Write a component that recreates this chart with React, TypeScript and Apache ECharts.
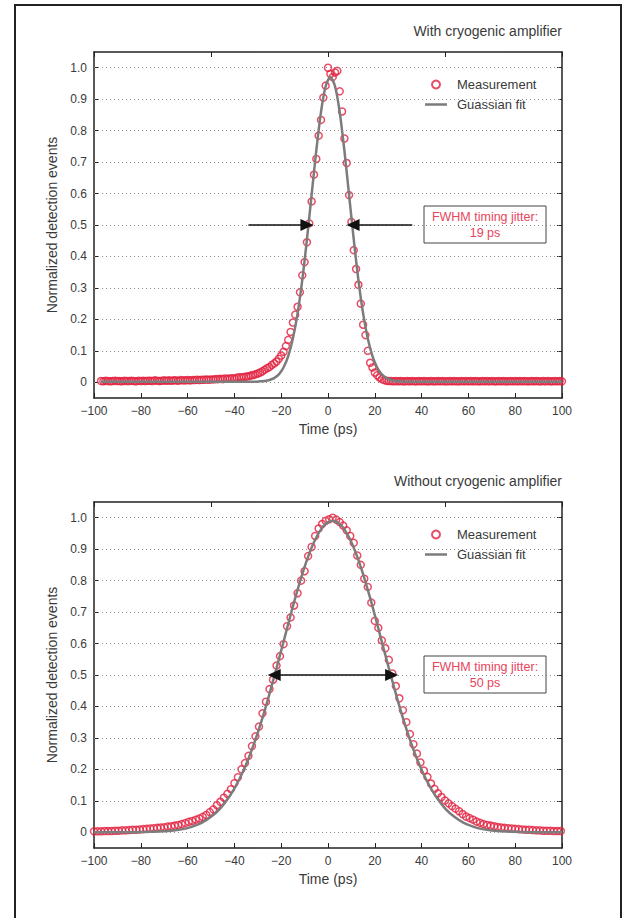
import React, { useEffect, useRef } from 'react';
import * as echarts from 'echarts';

// ---------- Data ----------
const yTickValues = [0, 0.1, 0.2, 0.3, 0.4, 0.5, 0.6, 0.7, 0.8, 0.9, 1.0];

// Top panel: with cryogenic amplifier
const topMeasT = [
  -97, -96, -95, -94, -93, -92, -91, -90, -89, -88, -87, -86, -85, -84, -83, -82, -81, -80, -79, -78,
  -77, -76, -75, -74, -73, -72, -71, -70, -69, -68, -67, -66, -65, -64, -63, -62, -61, -60, -59, -58,
  -57, -56, -55, -54, -53, -52, -51, -50, -49, -48, -47, -46, -45, -44, -43, -42, -41, -40, -39, -38,
  -37, -36, -35, -34, -33, -32, -31, -30, -29, -28, -27, -26, -25, -24, -23, -22, -21, -20, -19, -18,
  -17, -16, -15, -14, -13, -12, -11, -10, -9, -8, -7, -6, -5, -4, -3, -2, -1, 0, 1, 2,
  3, 4, 5, 6, 7, 8, 9, 10, 11, 12, 13, 14, 15, 16, 17, 18, 19, 20, 21, 22,
  23, 24, 25, 26, 27, 28, 29, 30, 31, 32, 33, 34, 35, 36, 37, 38, 39, 40, 41, 42,
  43, 44, 45, 46, 47, 48, 49, 50, 51, 52, 53, 54, 55, 56, 57, 58, 59, 60, 61, 62,
  63, 64, 65, 66, 67, 68, 69, 70, 71, 72, 73, 74, 75, 76, 77, 78, 79, 80, 81, 82,
  83, 84, 85, 86, 87, 88, 89, 90, 91, 92, 93, 94, 95, 96, 97, 98, 99, 100,
];
const topMeasV = [
  0.004, 0.003, 0.005, 0.004, 0.003, 0.004, 0.005, 0.004, 0.004, 0.003, 0.005, 0.004, 0.004, 0.005, 0.004, 0.003, 0.005, 0.004, 0.005, 0.004,
  0.005, 0.005, 0.004, 0.006, 0.005, 0.004, 0.005, 0.006, 0.005, 0.006, 0.005, 0.006, 0.006, 0.005, 0.007, 0.006, 0.006, 0.007, 0.006, 0.007,
  0.007, 0.008, 0.007, 0.008, 0.008, 0.009, 0.008, 0.009, 0.009, 0.010, 0.010, 0.011, 0.010, 0.012, 0.011, 0.012, 0.013, 0.012, 0.014, 0.016,
  0.016, 0.017, 0.018, 0.019, 0.021, 0.023, 0.025, 0.028, 0.031, 0.035, 0.040, 0.045, 0.048, 0.055, 0.060, 0.066, 0.075, 0.085, 0.097, 0.115,
  0.135, 0.160, 0.190, 0.215, 0.240, 0.286, 0.340, 0.382, 0.445, 0.505, 0.575, 0.660, 0.710, 0.784, 0.834, 0.905, 0.943, 1.000, 0.980, 0.970,
  0.985, 0.990, 0.925, 0.861, 0.775, 0.697, 0.595, 0.510, 0.420, 0.360, 0.310, 0.250, 0.183, 0.150, 0.100, 0.062, 0.047, 0.031, 0.022, 0.015,
  0.010, 0.007, 0.005, 0.004, 0.004, 0.003, 0.004, 0.003, 0.004, 0.003, 0.003, 0.004, 0.003, 0.004, 0.003, 0.003, 0.004, 0.003, 0.004, 0.003,
  0.003, 0.004, 0.003, 0.003, 0.004, 0.003, 0.004, 0.003, 0.003, 0.004, 0.003, 0.004, 0.003, 0.003, 0.004, 0.003, 0.004, 0.003, 0.004, 0.003,
  0.004, 0.003, 0.003, 0.004, 0.003, 0.004, 0.003, 0.004, 0.003, 0.003, 0.004, 0.003, 0.004, 0.003, 0.003, 0.004, 0.003, 0.004, 0.003, 0.004,
  0.003, 0.004, 0.003, 0.003, 0.004, 0.003, 0.004, 0.003, 0.003, 0.004, 0.003, 0.004, 0.003, 0.003, 0.004, 0.003, 0.004, 0.003,
];
const topFitT = [
  -97, -60, -40, -33, -31, -29, -27, -25, -23, -21, -19, -17, -15, -13, -11, -9, -7, -5, -3, -1,
  1, 3, 5, 7, 9, 11, 13, 15, 17, 19, 21, 23, 25, 27, 29, 31, 33, 40, 60, 100,
];
const topFitV = [
  0.002, 0.002, 0.002, 0.002, 0.002, 0.003, 0.004, 0.007, 0.013, 0.025, 0.047, 0.083, 0.139, 0.219, 0.325, 0.454, 0.596, 0.737, 0.859, 0.941,
  0.970, 0.941, 0.859, 0.737, 0.596, 0.454, 0.325, 0.219, 0.139, 0.083, 0.047, 0.025, 0.013, 0.007, 0.004, 0.003, 0.002, 0.002, 0.002, 0.002,
];
const topArrows = [
  [-34, -9],
  [36, 10.7],
];
const topJitter = '19 ps';

// Bottom panel: without cryogenic amplifier
const botMeasT = [
  -100, -98.5, -97, -95.5, -94, -92.5, -91, -89.5, -88, -86.5,
  -85, -83.5, -82, -80.5, -79, -77.5, -76, -74.5, -73, -71.5,
  -70, -68.5, -67, -65.5, -64, -62.5, -61, -59.5, -58, -56.5,
  -55, -53.5, -52, -50.5, -49, -47.5, -46, -44.5, -43, -41.5,
  -40, -38.5, -37, -35.5, -34, -32.5, -31, -29.5, -28, -26.5,
  -25, -23.5, -22, -20.5, -19, -17.5, -16, -14.5, -13, -11.5,
  -10, -8.5, -7, -5.5, -4, -2.5, -1, 0.5, 2, 3.5,
  5, 6.5, 8, 9.5, 11, 12.5, 14, 15.5, 17, 18.5,
  20, 21.5, 23, 24.5, 26, 27.5, 29, 30.5, 32, 33.5,
  35, 36.5, 38, 39.5, 41, 42.5, 44, 45.5, 47, 48.5,
  50, 51.5, 53, 54.5, 56, 57.5, 59, 60.5, 62, 63.5,
  65, 66.5, 68, 69.5, 71, 72.5, 74, 75.5, 77, 78.5,
  80, 81.5, 83, 84.5, 86, 87.5, 89, 90.5, 92, 93.5,
  95, 96.5, 98, 99.5,
];
const botMeasV = [
  0.003, 0.003, 0.003, 0.004, 0.004, 0.004, 0.005, 0.005, 0.006, 0.006,
  0.007, 0.008, 0.008, 0.009, 0.010, 0.011, 0.012, 0.013, 0.014, 0.015,
  0.016, 0.018, 0.019, 0.021, 0.023, 0.026, 0.029, 0.033, 0.036, 0.040,
  0.044, 0.049, 0.055, 0.064, 0.073, 0.086, 0.097, 0.110, 0.122, 0.137,
  0.156, 0.175, 0.200, 0.220, 0.243, 0.274, 0.305, 0.336, 0.378, 0.415,
  0.455, 0.485, 0.530, 0.560, 0.598, 0.655, 0.683, 0.721, 0.760, 0.800,
  0.830, 0.878, 0.907, 0.942, 0.966, 0.980, 0.990, 0.995, 1.000, 0.994,
  0.986, 0.975, 0.960, 0.942, 0.920, 0.880, 0.850, 0.806, 0.780, 0.730,
  0.672, 0.650, 0.610, 0.585, 0.548, 0.505, 0.465, 0.426, 0.388, 0.350,
  0.312, 0.280, 0.250, 0.222, 0.196, 0.176, 0.155, 0.138, 0.124, 0.112,
  0.101, 0.092, 0.083, 0.075, 0.067, 0.058, 0.050, 0.045, 0.040, 0.034,
  0.030, 0.026, 0.023, 0.021, 0.019, 0.017, 0.015, 0.014, 0.013, 0.012,
  0.011, 0.010, 0.009, 0.008, 0.008, 0.007, 0.006, 0.006, 0.005, 0.005,
  0.005, 0.004, 0.004, 0.004,
];
const botFitT = [
  -100, -94, -90, -86, -82, -78, -74, -70, -66, -62, -58, -54, -50, -46, -42, -38, -34, -30, -26, -22,
  -18, -14, -10, -6, -2, 2, 6, 10, 14, 18, 22, 26, 30, 34, 38, 42, 46, 50, 54, 58,
  62, 66, 70, 74, 78, 82, 86, 90, 94, 100,
];
const botFitV = [
  0.000, 0.000, 0.000, 0.000, 0.000, 0.001, 0.002, 0.003, 0.006, 0.010, 0.018, 0.030, 0.049, 0.076, 0.115, 0.167, 0.234, 0.317, 0.414, 0.522,
  0.634, 0.745, 0.844, 0.922, 0.973, 0.990, 0.973, 0.922, 0.844, 0.745, 0.634, 0.522, 0.414, 0.317, 0.234, 0.167, 0.115, 0.076, 0.049, 0.030,
  0.018, 0.010, 0.006, 0.003, 0.002, 0.001, 0.000, 0.000, 0.000, 0.000,
];
const botArrow = [-23, 27.2];
const botJitter = '50 ps';

const titles = ['With cryogenic amplifier', 'Without cryogenic amplifier'];

// ---------- Styles ----------
const RED = '#e21f3d';
const GRAY = '#7c7c7c';
const TEXT = '#3a3a3a';
const AXIS = '#222';
const FONT = '"Liberation Sans", Arial, Helvetica, sans-serif';
const LINE_ICON = 'path://M0,0L22,0M0,2.8L22,2.8L22,5.2L0,5.2ZM0,8L22,8';

const GRID_LEFT = 94;
const GRID_W = 468;
const GRID_H = 346;
const GRID_TOPS = [52, 502];

function pairs(t: number[], v: number[]) {
  return t.map((x, i) => [x, v[i]]);
}

function xAxes(gridIndex: number) {
  const line = { show: true, onZero: false, lineStyle: { color: AXIS, width: 1.5 } };
  return [
    {
      type: 'value', gridIndex, position: 'bottom', min: -100, max: 100, interval: 20,
      axisLine: line,
      axisTick: { show: true, inside: true, length: 5, lineStyle: { color: AXIS, width: 1 } },
      axisLabel: {
        color: TEXT, fontSize: 12, fontFamily: FONT, margin: 7,
        formatter: (v: number) => (v < 0 ? '\u2212' + Math.abs(v) : String(v)),
      },
      splitLine: { show: false },
      name: 'Time (ps)', nameLocation: 'middle', nameGap: 24,
      nameTextStyle: { color: TEXT, fontSize: 14, fontFamily: FONT },
    },
    {
      type: 'value', gridIndex, position: 'top', min: -100, max: 100, interval: 50,
      axisLine: line,
      axisTick: { show: true, inside: true, length: 5, lineStyle: { color: AXIS, width: 1 } },
      axisLabel: { show: false },
      splitLine: { show: false },
    },
  ];
}

function yAxes(gridIndex: number) {
  const line = { show: true, onZero: false, lineStyle: { color: AXIS, width: 1.5 } };
  return [
    {
      type: 'value', gridIndex, position: 'left', min: -0.05, max: 1.05,
      axisLine: line,
      axisTick: { show: true, inside: true, length: 5, customValues: yTickValues, lineStyle: { color: AXIS, width: 1 } },
      axisLabel: {
        color: TEXT, fontSize: 12, fontFamily: FONT, margin: 7, customValues: yTickValues,
        formatter: (v: number) => (Math.abs(v) < 1e-9 ? '0' : v.toFixed(1)),
      },
      splitLine: { show: false },
      name: 'Normalized detection events', nameLocation: 'middle', nameGap: 35, nameRotate: 90,
      nameTextStyle: { color: TEXT, fontSize: 14, fontFamily: FONT },
    },
    {
      type: 'value', gridIndex, position: 'right', min: -0.05, max: 1.05,
      axisLine: line,
      axisTick: { show: true, inside: true, length: 5, customValues: yTickValues, lineStyle: { color: AXIS, width: 1 } },
      axisLabel: { show: false, customValues: yTickValues },
      splitLine: { show: false },
    },
  ];
}

function panelSeries(panel: number, meas: number[][], fit: number[][], arrowData: any[], arrowSymbol: any) {
  const axisIdx = panel * 2;
  return [
    {
      name: 'grid' + panel, type: 'line', xAxisIndex: axisIdx, yAxisIndex: axisIdx,
      data: [[-100, 0]], showSymbol: false, symbol: 'none', lineStyle: { opacity: 0 }, z: 0, silent: true,
      markLine: {
        silent: true, symbol: 'none', label: { show: false },
        lineStyle: { type: [1, 3], color: '#8a8a8a', width: 1 },
        emphasis: { disabled: true },
        data: yTickValues.map((v) => ({ yAxis: v })),
      },
    },
    {
      name: 'Measurement', type: 'scatter', xAxisIndex: axisIdx, yAxisIndex: axisIdx,
      symbol: 'circle', symbolSize: 7,
      itemStyle: { color: 'rgba(255,255,255,0)', borderColor: RED, borderWidth: 1.5 },
      data: meas, z: 2,
    },
    {
      name: 'Guassian fit', type: 'line', xAxisIndex: axisIdx, yAxisIndex: axisIdx,
      symbol: 'none', showSymbol: false, smooth: 0.3,
      lineStyle: { color: GRAY, width: 2.5 }, itemStyle: { color: GRAY },
      data: fit, z: 3,
      markLine: {
        silent: true, symbol: arrowSymbol, symbolSize: [12, 13], label: { show: false },
        lineStyle: { color: '#111', width: 1.5, type: 'solid' },
        emphasis: { disabled: true },
        data: arrowData,
      },
    },
  ];
}

function legendFor(panel: number) {
  return {
    orient: 'vertical', left: 413, top: GRID_TOPS[panel] + 20,
    backgroundColor: '#fff', padding: [6, 23, 6, 12],
    itemWidth: 22, itemHeight: 8, itemGap: 7,
    textStyle: { color: TEXT, fontSize: 13, fontFamily: FONT, padding: [0, 0, 0, 5] },
    selectedMode: false,
    data: [
      { name: 'Measurement', icon: 'circle', itemStyle: { color: 'rgba(255,255,255,0)', borderColor: RED, borderWidth: 2 } },
      { name: 'Guassian fit', icon: LINE_ICON, itemStyle: { color: GRAY, borderWidth: 0 } },
    ],
  };
}

function jitterBox(panel: number, label: string) {
  const cy = GRID_TOPS[panel] + 172.5;
  return {
    type: 'group', z: 100,
    children: [
      { type: 'rect', shape: { x: 424, y: cy - 18.5, width: 122, height: 37 }, style: { fill: '#fff', stroke: '#444', lineWidth: 1 } },
      {
        type: 'text', x: 485, y: cy,
        style: {
          text: 'FWHM timing jitter:\n' + label, fill: '#e8445c', fontSize: 12.5, fontFamily: FONT,
          align: 'center', verticalAlign: 'middle', lineHeight: 16,
        },
      },
    ],
  };
}

export default function App() {
  const ref = useRef<HTMLDivElement>(null);
  useEffect(() => {
    if (!ref.current) return;
    const chart = echarts.init(ref.current, null, { renderer: 'svg' });
    const topArrowData = topArrows.map((a) => [{ coord: [a[0], 0.5] }, { coord: [a[1], 0.5] }]);
    const botArrowData = [[{ coord: [botArrow[0], 0.5] }, { coord: [botArrow[1], 0.5] }]];
    const option: any = {
      animation: false,
      backgroundColor: '#fff',
      title: titles.map((t, i) => ({
        text: t, right: 64, top: GRID_TOPS[i] - 28, padding: 0,
        textStyle: { color: TEXT, fontSize: 14, fontWeight: 'normal', fontFamily: FONT },
      })),
      grid: GRID_TOPS.map((top) => ({ left: GRID_LEFT, top, width: GRID_W, height: GRID_H, containLabel: false })),
      xAxis: [...xAxes(0), ...xAxes(1)],
      yAxis: [...yAxes(0), ...yAxes(1)],
      legend: [legendFor(0), legendFor(1)],
      series: [
        ...panelSeries(0, pairs(topMeasT, topMeasV), pairs(topFitT, topFitV), topArrowData, ['none', 'triangle']),
        ...panelSeries(1, pairs(botMeasT, botMeasV), pairs(botFitT, botFitV), botArrowData, ['triangle', 'triangle']),
      ],
      graphic: [
        {
          type: 'rect', z: 0, silent: true,
          shape: { x: 15, y: 5, width: 606, height: 960 },
          style: { fill: 'none', stroke: '#222', lineWidth: 2 },
        },
        jitterBox(0, topJitter),
        jitterBox(1, botJitter),
      ],
    };
    chart.setOption(option);
    return () => chart.dispose();
  }, []);
  return <div ref={ref} style={{ position: 'absolute', left: 0, top: 0, width: 626, height: 918 }} />;
}
